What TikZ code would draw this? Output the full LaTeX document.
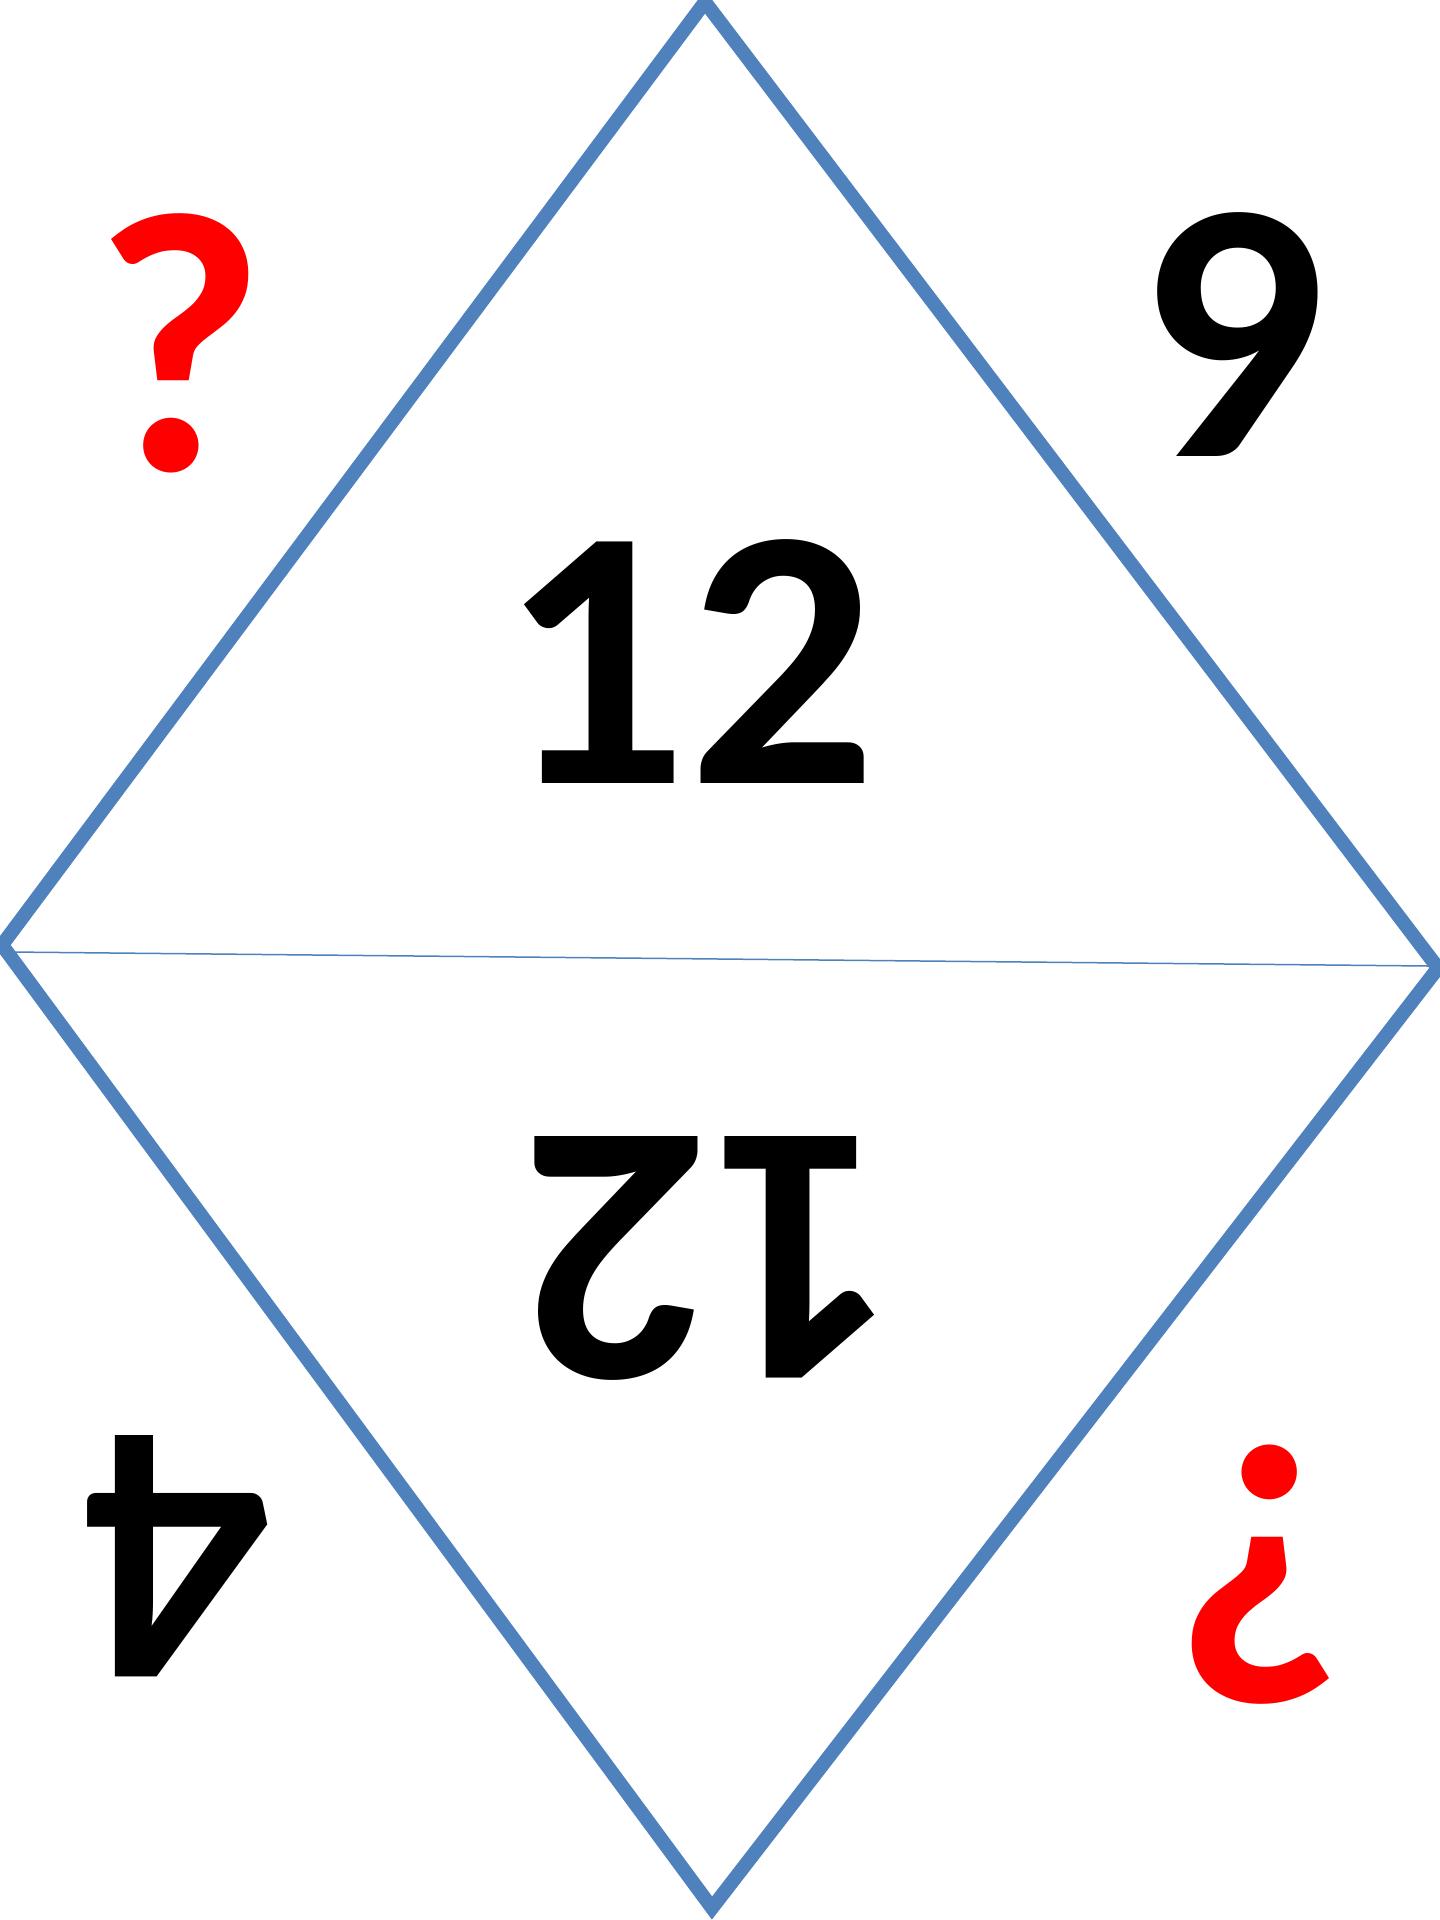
\documentclass[tikz,border=0pt]{standalone}
\usepackage{fontspec}
\setmainfont{Carlito}
\definecolor{edgeblue}{HTML}{4F81BD}
\definecolor{qred}{HTML}{FF0000}
\tikzset{
  outline/.style={draw=edgeblue, line width=14pt, line join=miter},
  midline/.style={draw=edgeblue, line width=1.5pt},
  bignum/.style={inner sep=0pt, font=\fontsize{372}{372}\selectfont\bfseries},
}
\begin{document}
\begin{tikzpicture}[x=1pt,y=-1pt]
\useasboundingbox (0,0) rectangle (1440,1920);
\coordinate (T) at (705,2);
\coordinate (L) at (2,945);
\coordinate (R) at (1438,968);
\coordinate (B) at (712,1908);
\coordinate (ml) at (10,952);
\coordinate (mr) at (1428,966);
\draw[outline] (T) -- (R) -- (B) -- (L) -- cycle;
\draw[midline] (ml) -- (mr);
\node[bignum] (n12) at (688,662) {12};
\node[bignum, rotate=180] (n12r) at (711,1258) {12};
\node[bignum, text=qred] (q) at (180,343) {?};
\node[bignum] (n9) at (1232,335) {9};
\node[bignum, rotate=180] (n4) at (176,1556) {4};
\node[bignum, text=qred, rotate=180] (qr) at (1261,1575) {?};
\end{tikzpicture}
\end{document}
